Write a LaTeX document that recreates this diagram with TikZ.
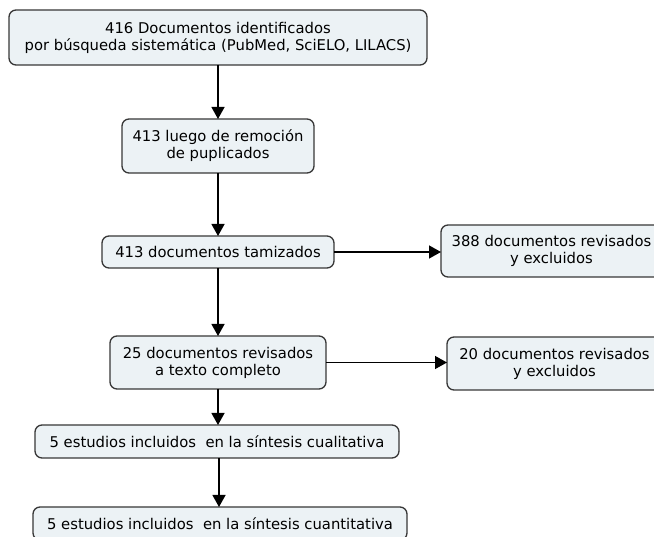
\documentclass[tikz,border=0pt]{standalone}
\usepackage{fontspec}
\setmainfont{DejaVu Sans}
\usetikzlibrary{arrows.meta}
\definecolor{boxfill}{RGB}{236,242,245}
\definecolor{boxline}{RGB}{55,55,55}

\begin{document}
\begin{tikzpicture}[x=1pt,y=-1pt,inner sep=0in,outer sep=0in,
	stage/.style={rectangle, rounded corners=7pt, draw=boxline, line width=1.3pt, fill=boxfill, align=center, font=\fontsize{14.8}{17}\selectfont},
	flow/.style={black, line width=1.3pt, -{Triangle[length=12pt,width=13pt]}}]
	\useasboundingbox (0,0) rectangle (654,537);
	
	\node[stage, minimum width=418pt, minimum height=55pt] at (218,37.5) (d_1) {416 Documentos identificados\\por búsqueda sistemática (PubMed, SciELO, LILACS)};
	\node[stage, minimum width=192pt, minimum height=54pt] at (218,146) (d_2) {413 luego de remoción\\de puplicados};
	\node[stage, minimum width=232pt, minimum height=32pt] at (218,252) (d_3) {413 documentos tamizados};
	\node[stage, minimum width=216pt, minimum height=53pt] at (218,362.5) (d_4) {25 documentos revisados\\a texto completo};
	\node[stage, minimum width=364pt, minimum height=33pt] at (217,441.5) (d_5) {5 estudios incluidos~ en la síntesis cualitativa};
	\node[stage, minimum width=374pt, minimum height=33pt] at (220,523.5) (d_6) {5 estudios incluidos~ en la síntesis cuantitativa};
	
	\node[stage, minimum width=221pt, minimum height=52pt] at (551.5,251) (x_1) {388 documentos revisados\\y excluidos};
	\node[stage, minimum width=215pt, minimum height=53pt] at (554.5,363.5) (x_2) {20 documentos revisados\\y excluidos};
	
	\draw[flow] (d_1)--(d_2);
	\draw[flow] (d_2)--(d_3);
	\draw[flow] (d_3)--(d_4);
	\draw[flow] (d_4)--(d_4 |- d_5.north);
	\draw[flow] ([xshift=2pt]d_5.south)--([xshift=2pt]d_5.south |- d_6.north);
	\draw[flow] (d_3)--(d_3 -| x_1.west);
	\draw[flow] (d_4)--(d_4 -| x_2.west);
\end{tikzpicture}
\end{document}
